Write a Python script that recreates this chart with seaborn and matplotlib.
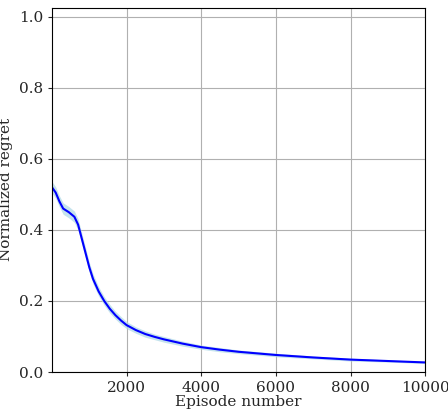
import numpy as np
import matplotlib
matplotlib.use("Agg")
import matplotlib.pyplot as plt
import seaborn as sns

episodes = [0, 100, 200, 300, 450, 600, 700, 800, 900, 1000, 1100, 1250, 1400, 1550, 1700, 1850,
            2000, 2250, 2500, 2750, 3000, 3500, 4000, 4500, 5000, 6000, 7000, 8000, 9000, 10000]
regret = [0.52, 0.505, 0.48, 0.46, 0.45, 0.437, 0.415, 0.375, 0.335, 0.295, 0.262, 0.227, 0.2, 0.178, 0.16, 0.145,
          0.132, 0.118, 0.107, 0.099, 0.092, 0.08, 0.07, 0.063, 0.057, 0.048, 0.041, 0.035, 0.031, 0.027]
band = [0.016, 0.016, 0.016, 0.016, 0.016, 0.016, 0.016, 0.015, 0.015, 0.014, 0.014, 0.013, 0.012, 0.012, 0.011, 0.011,
        0.01, 0.009, 0.009, 0.008, 0.008, 0.007, 0.006, 0.006, 0.005, 0.005, 0.004, 0.004, 0.003, 0.003]

sns.set_style("white")
plt.rcParams["font.family"] = ["DejaVu Serif"]

fig, ax = plt.subplots(figsize=(4.48, 4.12), dpi=100)
x = np.array(episodes)
y = np.array(regret)
b = np.array(band)
ax.fill_between(x, y - b, y + b, color="#add8e6", alpha=0.7, linewidth=0)
sns.lineplot(x=x, y=y, ax=ax, color="blue", linewidth=1.5)

ax.set_xlim(0, 10000)
ax.set_ylim(0, 1.025)
ax.set_xticks([2000, 4000, 6000, 8000, 10000])
ax.set_yticks([0.0, 0.2, 0.4, 0.6, 0.8, 1.0])
ax.grid(True, color="#b0b0b0", linewidth=0.8)
for s in ax.spines.values():
    s.set_color("black")
ax.tick_params(direction="out", length=3, labelsize=11, left=True, bottom=True)
ax.set_xlabel("Episode number", fontsize=11, labelpad=0)
ax.set_ylabel("Normalized regret", fontsize=11)
fig.subplots_adjust(left=0.116, right=0.949, top=0.981, bottom=0.097)
fig.savefig("out.png", dpi=100)
